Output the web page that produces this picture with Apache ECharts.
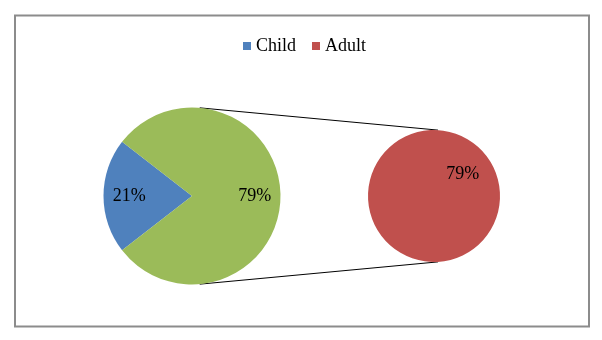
<!DOCTYPE html>
<html>
<head>
<meta charset="utf-8">
<script src="https://cdn.jsdelivr.net/npm/echarts@6/dist/echarts.min.js"></script>
<style>
html,body{margin:0;padding:0;background:#fff;}
#chart{width:602px;height:340px;}
</style>
</head>
<body>
<div id="chart"></div>
<script>
// Data
const categories = ['Child', 'Adult'];
const values = [21, 79];
const secondaryCategories = ['Adult'];   // split off into the secondary pie
const otherName = 'Other';

const colors = { Child: '#4F81BD', Adult: '#C0504D', Other: '#9BBB59' };
const FONT = '"Liberation Serif", "Times New Roman", serif';

// Layout
const mainC = [192, 196], mainR = 88.5;
const secC = [434, 196], secR = 66;
const startAngle = 217.8;

const primary = [];
const secondary = [];
let otherSum = 0;
categories.forEach((c, i) => {
  if (secondaryCategories.includes(c)) {
    secondary.push({ name: c, value: values[i], itemStyle: { color: colors[c] } });
    otherSum += values[i];
  } else {
    primary.push({ name: c, value: values[i], itemStyle: { color: colors[c] } });
  }
});
primary.push({ name: otherName, value: otherSum, itemStyle: { color: colors.Other } });

const chart = echarts.init(document.getElementById('chart'));

function pt(c, r, degFromTop) {
  const a = degFromTop * Math.PI / 180;
  return [c[0] + r * Math.sin(a), c[1] - r * Math.cos(a)];
}
const t1 = pt(mainC, mainR, 5), t2 = pt(secC, secR, 3.5);
const b1 = pt(mainC, mainR, 175), b2 = pt(secC, secR, 176.5);

const labelStyle = {
  show: true, position: 'inside', formatter: '{c}%',
  color: '#000', fontFamily: FONT, fontSize: 18
};

chart.setOption({
  animation: false,
  backgroundColor: '#fff',
  legend: {
    data: categories,
    left: 243, top: 37, padding: 0,
    icon: 'rect', itemWidth: 8, itemHeight: 8, itemGap: 16,
    selectedMode: false,
    textStyle: { fontFamily: FONT, fontSize: 18, color: '#000' }
  },
  graphic: [
    { type: 'rect', shape: { x: 15, y: 15.5, width: 574, height: 311 }, style: { fill: 'none', stroke: '#8c8c8c', lineWidth: 2 }, silent: true },
    { type: 'line', shape: { x1: t1[0], y1: t1[1], x2: t2[0], y2: t2[1] }, style: { stroke: '#000', lineWidth: 1 }, silent: true },
    { type: 'line', shape: { x1: b1[0], y1: b1[1], x2: b2[0], y2: b2[1] }, style: { stroke: '#000', lineWidth: 1 }, silent: true }
  ],
  series: [
    {
      type: 'pie', center: mainC, radius: [0, mainR], startAngle: startAngle,
      label: { show: false }, labelLine: { show: false },
      itemStyle: { borderWidth: 0 }, silent: true,
      data: primary
    },
    {
      type: 'pie', center: mainC, radius: [31, mainR], startAngle: startAngle,
      label: labelStyle, labelLine: { show: false }, silent: true,
      itemStyle: { color: 'rgba(0,0,0,0)', borderWidth: 0 },
      data: primary.map(d => ({ name: d.name + ' ', value: d.value, itemStyle: { color: 'rgba(0,0,0,0)' } }))
    },
    {
      type: 'pie', center: secC, radius: [0, secR], startAngle: 217,
      label: labelStyle, labelLine: { show: false },
      itemStyle: { borderWidth: 0 }, silent: true,
      data: secondary
    }
  ]
});
</script>
</body>
</html>
